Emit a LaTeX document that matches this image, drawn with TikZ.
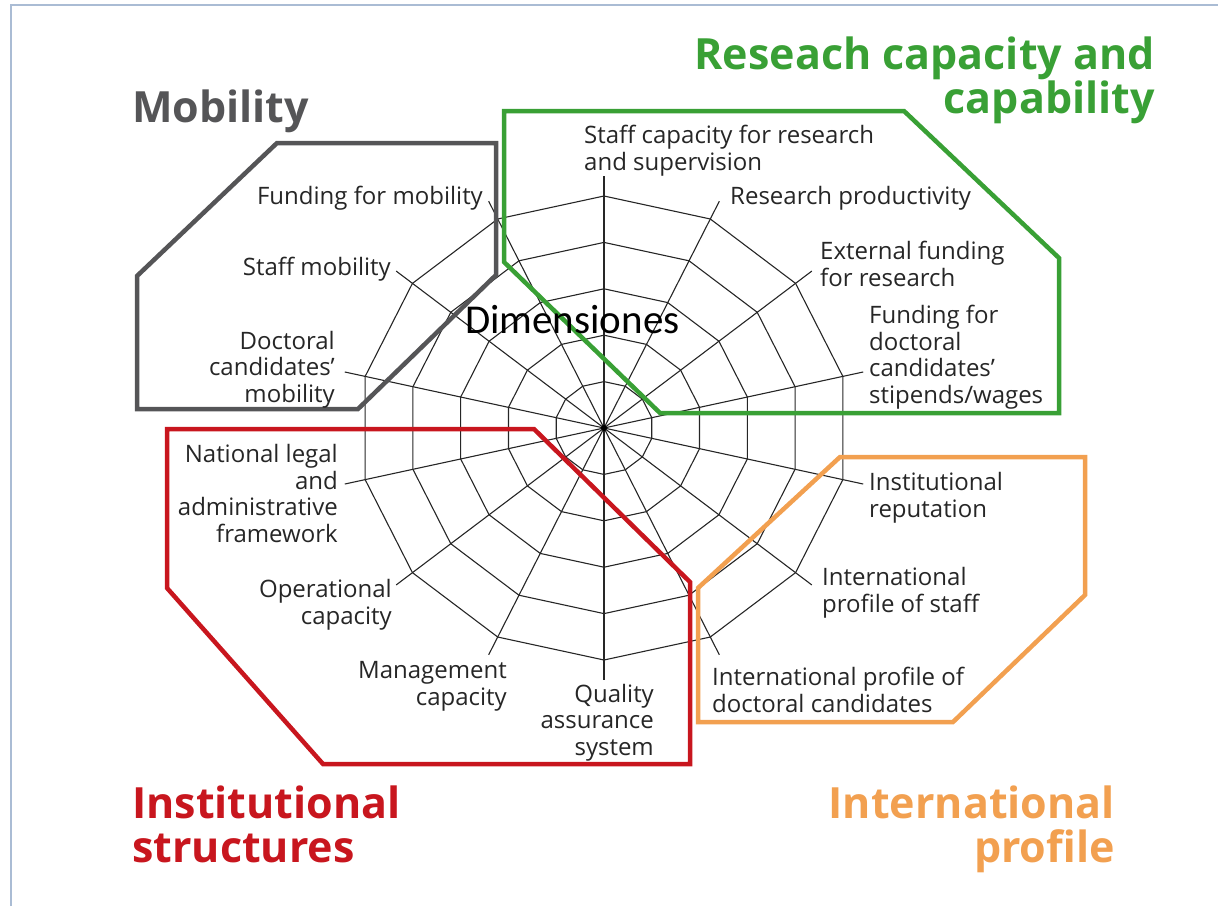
\documentclass[tikz,border=0pt]{standalone}
\usepackage{fontspec}
\setmainfont{Open Sans}
\newfontfamily\dimfont{Carlito}
\usetikzlibrary{positioning}

\definecolor{mobgray}{RGB}{85,85,87}
\definecolor{resgreen}{RGB}{57,160,53}
\definecolor{insred}{RGB}{200,22,30}
\definecolor{intorange}{RGB}{242,160,80}
\definecolor{framecol}{RGB}{170,188,212}

\tikzset{
  web/.style={draw=black!85, line width=1.1pt},
  lbl/.style={font=\fontsize{24}{26.5}\selectfont, text=black!85, inner sep=0pt},
  lbll/.style={lbl, align=left, anchor=base west},
  lblr/.style={lbl, align=right, anchor=base east},
  title/.style={font=\fontsize{43}{44}\selectfont\bfseries, inner sep=0pt},
  group/.style={line width=4.5pt, line join=miter},
}

\begin{document}
\begin{tikzpicture}[x=1pt,y=-1pt]
  \useasboundingbox (0,0) rectangle (1218,906);
  \draw[framecol, line width=2pt] (11,906) -- (11,5) -- (1218,5);

  \coordinate (c) at (604,428);

  % web: 14 spokes, 5 rings
  \begin{scope}[shift={(c)}, x=245pt, y=232pt]
    \foreach \k in {0,...,13}
      \coordinate (e\k) at ({90-\k*360/14}:1.085);
    \foreach \r in {0.2,0.4,0.6,0.8,1}
      \draw[web] (90:\r) \foreach \k in {1,...,13} { -- ({90-\k*360/14}:\r) } -- cycle;
  \end{scope}
  \foreach \k in {0,...,13}
    \draw[web] (c) -- (e\k);
  \fill[black] (c) circle (3pt);

  % groups
  \draw[group, mobgray]   (277,143) -- (496,143) -- (496,275) -- (358,409) -- (137,409) -- (137,276) -- cycle;
  \draw[group, resgreen]  (504,111) -- (904,111) -- (1059,258) -- (1059,413) -- (660,413) -- (504,262) -- cycle;
  \draw[group, insred]    (167,429) -- (534,429) -- (690,582) -- (690,764) -- (323,764) -- (167,588) -- cycle;
  \draw[group, intorange] (840,457) -- (1085,457) -- (1085,595) -- (953,722) -- (698,722) -- (698,588) -- cycle;

  % dimensions (base = last line)
  \node[lbll] (l0)  at (584,170)   {Staff capacity for research\\and supervision};
  \node[lbll] (l1)  at (730,204)   {Research productivity};
  \node[lbll] (l2)  at (820,286)   {External funding\\for research};
  \node[lbll] (l3)  at (869,403)   {Funding for\\doctoral\\candidates'\\stipends/wages};
  \node[lbll] (l4)  at (869,517)   {Institutional\\reputation};
  \node[lbll] (l5)  at (822,612)   {International\\profile of staff};
  \node[lbll] (l6)  at (712,712)   {International profile of\\doctoral candidates};
  \node[lblr] (l7)  at (654,755)   {Quality\\assurance\\system};
  \node[lblr] (l8)  at (507,705)   {Management\\capacity};
  \node[lblr] (l9)  at (392,624)   {Operational\\capacity};
  \node[lblr] (l10) at (338,542)   {National legal\\and\\administrative\\framework};
  \node[lblr] (l11) at (335,402)   {Doctoral\\candidates'\\mobility};
  \node[lblr] (l12) at (391,275)   {Staff mobility};
  \node[lblr] (l13) at (483,204)   {Funding for mobility};

  \node[anchor=base west, inner sep=0pt, font=\dimfont\fontsize{41}{42}\selectfont] (dim) at (465,333) {Dimensiones};

  % titles
  \node[title, text=mobgray, anchor=base west] (mob) at (132,122) {Mobility};
  \node[title, text=resgreen, align=right, anchor=base east] (res) at (1155,113) {Reseach capacity and\\capability};
  \node[title, text=insred, align=left, anchor=base west] (ins) at (132,862) {Institutional\\structures};
  \node[title, text=intorange, align=right, anchor=base east] (int) at (1115,862) {International\\profile};
\end{tikzpicture}
\end{document}
